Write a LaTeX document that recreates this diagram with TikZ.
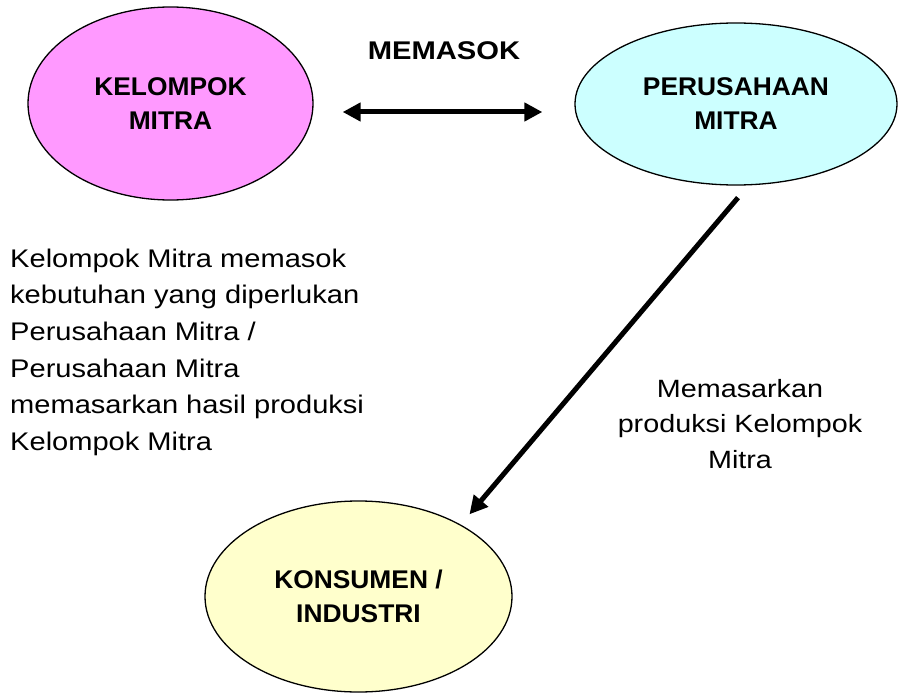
\documentclass[tikz,border=0pt]{standalone}
\usepackage{fontspec}
\setmainfont{Liberation Sans}
\newfontfamily\labelfont[FakeStretch=1.03]{Liberation Sans}
\newfontfamily\supplyfont[FakeStretch=1.14]{Liberation Sans}
\newfontfamily\notefont[FakeStretch=1.14]{Liberation Sans}
\newfontfamily\sidefont[FakeStretch=1.15]{Liberation Sans}
\usetikzlibrary{shapes.geometric,arrows.meta}
\definecolor{mitrapink}{HTML}{FF99FF}
\definecolor{mitracyan}{HTML}{CCFFFF}
\definecolor{mitrayellow}{HTML}{FFFFCC}
\begin{document}
\begin{tikzpicture}[x=1pt,y=-1pt,
  party/.style={ellipse, draw=black, line width=1.3pt, inner sep=0pt, align=center,
    font=\labelfont\bfseries\fontsize{25.6}{34}\selectfont},
  flow/.style={line width=5pt, -{Triangle[length=18pt,width=18pt]}},
  twoway/.style={line width=5pt, {Triangle[length=18pt,width=18pt]}-{Triangle[length=18pt,width=18pt]}},
  note/.style={inner sep=0pt, font=\notefont\fontsize{25.5}{36.67}\selectfont}
]
\useasboundingbox (0,0) rectangle (898,693);

% the three parties
\node[party, fill=mitrapink, minimum width=285pt, minimum height=193pt]
  (kelompok) at (170.5,103.5) {KELOMPOK\\MITRA};
\node[party, fill=mitracyan, minimum width=322pt, minimum height=162pt]
  (perusahaan) at (736,104) {PERUSAHAAN\\MITRA};
\node[party, fill=mitrayellow, minimum width=307pt, minimum height=191pt]
  (konsumen) at (358.5,596.5) {KONSUMEN /\\INDUSTRI};

% supply relation
\node[anchor=base, inner sep=0pt, font=\supplyfont\bfseries\fontsize{25.6}{30}\selectfont]
  (memasok) at (444,60) {MEMASOK};
\draw[twoway, shorten <=29pt, shorten >=32pt]
  ([yshift=-8.5pt]kelompok.east) -- ([yshift=-8pt]perusahaan.west);

% marketing to consumers
\draw[flow] ([shift={(2,12)}]perusahaan.south) -- ([shift={(19,-5)}]konsumen.40);

% explanatory notes
\node[note, anchor=north west, align=left] (keterangan) at (10,248.5)
  {Kelompok Mitra memasok\\kebutuhan yang diperlukan\\Perusahaan Mitra /\\Perusahaan Mitra\\memasarkan hasil produksi\\Kelompok Mitra};
\node[note, anchor=north, align=center, font=\sidefont\fontsize{25}{35.7}\selectfont]
  (pemasaran) at (740,378.7) {Memasarkan\\produksi Kelompok\\Mitra};
\end{tikzpicture}
\end{document}
